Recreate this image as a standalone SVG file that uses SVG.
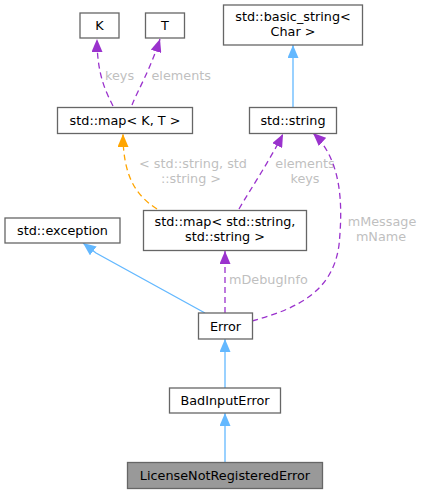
<svg xmlns="http://www.w3.org/2000/svg" width="424" height="493" viewBox="0 0 424 493">
<style>
.n rect{fill:#ffffff;stroke:#666666;stroke-width:1.3}
.n.hl rect{fill:#999999}
text{font-family:"DejaVu Sans","Liberation Sans",sans-serif;font-size:12.8px;fill:#000000;text-anchor:middle}
.lbl{fill:#bfbfbf}
.inh{fill:none;stroke:#63b8ff;stroke-width:1.3}
.use{fill:none;stroke:#9a32cd;stroke-width:1.3;stroke-dasharray:6,4}
.tpl{fill:none;stroke:#ffa500;stroke-width:1.3;stroke-dasharray:6,4}
</style>
<defs>
<marker id="aB" viewBox="0 0 13 11" refX="13" refY="5.5" markerWidth="13" markerHeight="11" markerUnits="userSpaceOnUse" orient="auto"><path d="M0,0 L13,5.5 L0,11 Z" fill="#63b8ff"/></marker>
<marker id="aP" viewBox="0 0 13 11" refX="13" refY="5.5" markerWidth="13" markerHeight="11" markerUnits="userSpaceOnUse" orient="auto"><path d="M0,0 L13,5.5 L0,11 Z" fill="#9a32cd"/></marker>
<marker id="aO" viewBox="0 0 13 11" refX="13" refY="5.5" markerWidth="13" markerHeight="11" markerUnits="userSpaceOnUse" orient="auto"><path d="M0,0 L13,5.5 L0,11 Z" fill="#ffa500"/></marker>
</defs>
<g id="edges">
<path class="use" d="M113,106 C106,92 97,75 97,39" marker-end="url(#aP)"/>
<text class="lbl" x="105" y="80" style="text-anchor:start">keys</text>
<path class="use" d="M132,105 C138,90 150,70 160,39" marker-end="url(#aP)"/>
<text class="lbl" x="151.5" y="80" style="text-anchor:start">elements</text>
<path class="tpl" d="M157,209 C135,195 123,175 123,134" marker-end="url(#aO)"/>
<text class="lbl" x="193" y="168">&lt; std::string, std</text>
<text class="lbl" x="191" y="183">::string &gt;</text>
<path class="inh" d="M293,107 L293,45" marker-end="url(#aB)"/>
<path class="use" d="M239,209 C250,190 270,160 283,134" marker-end="url(#aP)"/>
<text class="lbl" x="305" y="168">elements</text>
<text class="lbl" x="305" y="183">keys</text>
<path class="use" d="M252,321 C300,308 333,290 339,245 C343,205 342,160 313,133" marker-end="url(#aP)"/>
<text class="lbl" x="382" y="226">mMessage</text>
<text class="lbl" x="381" y="241">mName</text>
<path class="use" d="M225,313 L225,251" marker-end="url(#aP)"/>
<text class="lbl" x="229" y="284" style="text-anchor:start">mDebugInfo</text>
<path class="inh" d="M205,313 L96,253 L83,243" marker-end="url(#aB)"/>
<path class="inh" d="M225,388 L225,339" marker-end="url(#aB)"/>
<path class="inh" d="M225,462 L225,413" marker-end="url(#aB)"/>
</g>
<g id="node_K" class="n"><rect x="80" y="13" width="39" height="25"/><text x="99.5" y="30">K</text></g>
<g id="node_T" class="n"><rect x="145.5" y="13" width="39" height="25"/><text x="165" y="30">T</text></g>
<g id="node_mapKT" class="n"><rect x="57.5" y="107.5" width="135" height="26"/><text x="125" y="125">std::map&lt; K, T &gt;</text></g>
<g id="node_basic_string" class="n"><rect x="223.5" y="5" width="139" height="40"/><text x="293" y="21">std::basic_string&lt;</text><text x="293" y="36">Char &gt;</text></g>
<g id="node_string" class="n"><rect x="249.5" y="107.5" width="87" height="26"/><text x="293" y="125">std::string</text></g>
<g id="node_exception" class="n"><rect x="5" y="218" width="115" height="25"/><text x="62.5" y="235">std::exception</text></g>
<g id="node_mapSS" class="n"><rect x="143.5" y="210.5" width="163" height="40"/><text x="225" y="226">std::map&lt; std::string,</text><text x="225" y="241">std::string &gt;</text></g>
<g id="node_Error" class="n"><rect x="198.5" y="313" width="54" height="26"/><text x="225.5" y="330.5">Error</text></g>
<g id="node_BadInputError" class="n"><rect x="169.5" y="388" width="111" height="25"/><text x="225" y="405">BadInputError</text></g>
<g id="node_License" class="n hl"><rect x="127.5" y="462.5" width="195" height="26"/><text x="225" y="480">LicenseNotRegisteredError</text></g>
</svg>
